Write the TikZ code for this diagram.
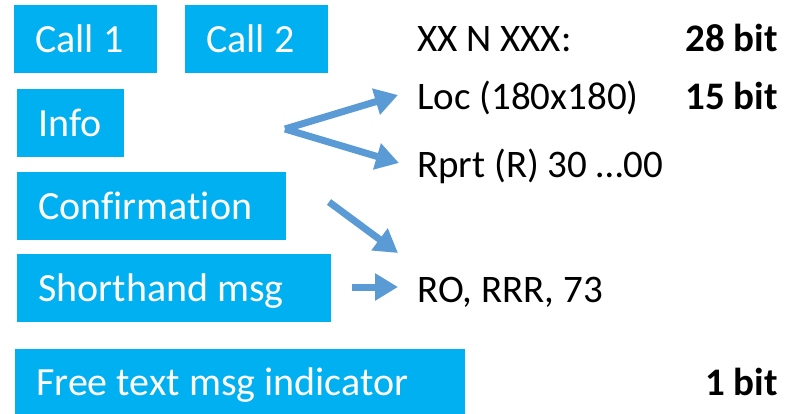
\documentclass[tikz,border=0pt]{standalone}
\usepackage{fontspec}
\setmainfont{Carlito}[Ligatures=NoCommon]
\usetikzlibrary{arrows.meta}
\definecolor{boxcyan}{HTML}{00B0F0}
\definecolor{arrowblue}{HTML}{5B9BD5}
% left-aligned box text with the font's own word spacing
\newcommand{\fieldtext}[2]{\makebox[#1][l]{#2}}
\tikzset{
  fieldbox/.style={fill=boxcyan, draw=none, anchor=north west, text=white,
    font=\fontsize{40}{44}\selectfont, inner xsep=21pt,
    text height=27pt, text depth=0pt, minimum height=68pt},
  label/.style={anchor=base west, inner sep=0pt, text=black,
    font=\fontsize{39}{43}\selectfont},
  bits/.style={anchor=base east, inner sep=0pt, text=black,
    font=\fontsize{39}{43}\selectfont\bfseries},
  flow/.style={draw=arrowblue, line width=7pt,
    -{Triangle[length=23pt,width=26pt]}}
}
\begin{document}
\begin{tikzpicture}[x=1pt,y=-1pt]
\useasboundingbox (0,0) rectangle (794,414);

% message field boxes
\node[fieldbox] (call1) at (14,5) {\fieldtext{101pt}{Call 1}};
\node[fieldbox] (call2) at (185,5) {\fieldtext{101pt}{Call 2}};
\node[fieldbox] (info) at (17,89) {\fieldtext{65pt}{Info}};
\node[fieldbox] (conf) at (17,172) {\fieldtext{227pt}{Confirmation}};
\node[fieldbox] (short) at (17,254) {\fieldtext{272pt}{Shorthand msg}};
\node[fieldbox, minimum height=66pt] (free) at (15,349) {\fieldtext{408pt}{Free text msg indicator}};

% field contents
\node[label] (xx) at (417,52) {XX N XXX:};
\node[label] (loc) at (417,110) {Loc (180x180)};
\node[label] (rprt) at (417,177) {Rprt (R) 30 …00};
\node[label] (ro) at (417,302) {RO, RRR, 73};

% bit sizes
\node[bits] (b28) at (778,52) {28 bit};
\node[bits] (b15) at (778,110) {15 bit};
\node[bits] (b1) at (778,395) {1 bit};

% arrow ends
\coordinate (fork) at (285,129);
\coordinate (locin) at (398,95);
\coordinate (rprtin) at (399,163);
\coordinate (confout) at (329,202);
\coordinate (roin1) at (398,253);
\coordinate (shortout) at (352,287);
\coordinate (roin2) at (398,287);

\draw[flow] (fork) -- (locin);
\draw[flow] (fork) -- (rprtin);
\draw[flow] (confout) -- (roin1);
\draw[flow] (shortout) -- (roin2);
\end{tikzpicture}
\end{document}
